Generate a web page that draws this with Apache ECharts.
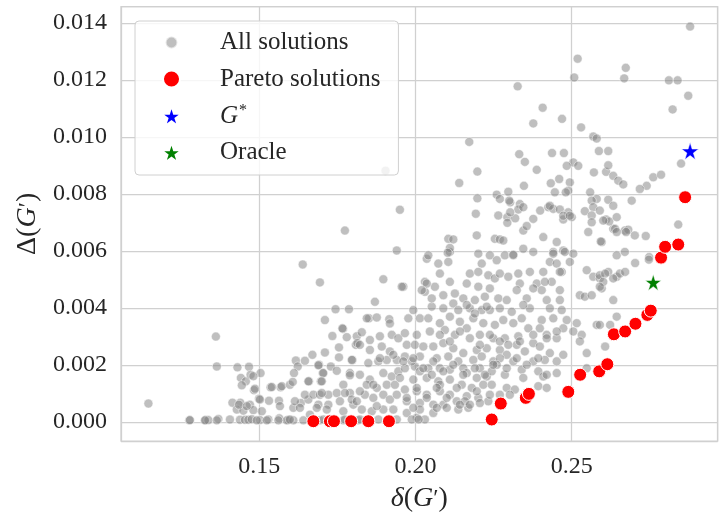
<!DOCTYPE html>
<html>
<head>
<meta charset="utf-8">
<script src="https://cdn.jsdelivr.net/npm/echarts@6/dist/echarts.min.js"></script>
<style>
html, body { margin: 0; padding: 0; background: #fff; }
#chart { width: 719px; height: 518px; }
</style>
</head>
<body>
<div id="chart"></div>
<script>
// points as [delta(G'), Delta(G')]
const allSolutions = [
  [0.1145,0.00064],[0.1276,0.00005],[0.1361,0.00299],[0.1364,0.00194],[0.1639,0.00552],[0.1694,0.00489],
  [0.1710,0.00357],[0.1744,0.00395],[0.1787,0.00395],[0.1768,0.00326],[0.1734,0.00301],[0.1755,0.00261],
  [0.1780,0.00297],[0.1755,0.00226],[0.1710,0.00243],[0.1670,0.00235],[0.1617,0.00215],[0.1623,0.00194],
  [0.1691,0.00200],[0.1729,0.00194],[0.1659,0.00142],[0.1611,0.00171],
  [0.1430,0.00191],[0.1467,0.00193],[0.1441,0.00154],[0.1457,0.00142],[0.1472,0.00165],[0.1504,0.00171],
  [0.1444,0.00128],[0.1483,0.00111],[0.1536,0.00121],[0.1568,0.00121],[0.1499,0.00081],[0.1531,0.00074],
  [0.1414,0.00067],[0.1439,0.00067],[0.1470,0.00060],[0.1563,0.00074],[0.1428,0.00043],[0.1449,0.00039],
  [0.1481,0.00041],[0.1508,0.00037],[0.1566,0.00055],
  [0.1278,0.00006],[0.1328,0.00006],[0.1337,0.00006],[0.1369,0.00010],[0.1406,0.00008],[0.1438,0.00007],
  [0.1454,0.00007],[0.1465,0.00007],[0.1476,0.00009],[0.1502,0.00006],[0.1529,0.00008],[0.1564,0.00012],
  [0.1593,0.00006],
  [0.1481,0.00160],[0.1486,0.00116],[0.1540,0.00122],[0.1572,0.00125],[0.1598,0.00130],[0.1607,0.00140],
  [0.1646,0.00214],[0.1689,0.00198],[0.1703,0.00171],[0.1697,0.00142],[0.1748,0.00179],[0.1790,0.00171],
  [0.1798,0.00217],[0.1809,0.00270],[0.1812,0.00300],
  [0.1435,0.00060],[0.1460,0.00055],[0.1502,0.00078],[0.1609,0.00049],[0.1633,0.00066],[0.1657,0.00078],
  [0.1646,0.00095],[0.1673,0.00095],[0.1694,0.00095],[0.1721,0.00095],[0.1748,0.00101],[0.1758,0.00072],
  [0.1689,0.00060],[0.1721,0.00060],[0.1790,0.00101],[0.1801,0.00060],[0.1796,0.00078],
  [0.1326,0.00005],[0.1364,0.00005],[0.1492,0.00005],[0.1524,0.00005],[0.1561,0.00005],[0.1588,0.00005],
  [0.1609,0.00005],[0.1641,0.00005],[0.1694,0.00005],[0.1721,0.00005],[0.1769,0.00005],[0.1817,0.00005],
  [0.1774,0.00671],[0.1897,0.00500],[0.1940,0.00601],[0.1870,0.00421],[0.1851,0.00363],[0.1876,0.00366],
  [0.1916,0.00360],[0.1918,0.00345],[0.1766,0.00328],[0.1828,0.00314],[0.1854,0.00287],[0.1886,0.00300],
  [0.1924,0.00305],[0.1945,0.00293],[0.1814,0.00276],[0.1854,0.00252],[0.1892,0.00264],[0.1918,0.00247],
  [0.1796,0.00217],[0.1849,0.00206],[0.1881,0.00212],[0.1908,0.00217],[0.1940,0.00217],[0.1705,0.00171],
  [0.1790,0.00163],[0.1822,0.00165],[0.1854,0.00148],[0.1897,0.00171],[0.1924,0.00159],[0.1945,0.00177],
  [0.1657,0.00142],[0.1700,0.00142],[0.1769,0.00130],[0.1844,0.00130],[0.1876,0.00119],[0.1908,0.00130],
  [0.1934,0.00130],[0.1614,0.00072],[0.1700,0.00101],[0.1774,0.00101],[0.1812,0.00072],[0.1838,0.00095],
  [0.1865,0.00084],[0.1897,0.00095],[0.1918,0.00078],[0.1940,0.00095],[0.1630,0.00049],[0.1684,0.00049],
  [0.1716,0.00043],[0.1769,0.00037],[0.1828,0.00043],[0.1860,0.00037],[0.1897,0.00043],[0.1929,0.00043],
  [0.1662,0.00025],[0.1705,0.00008],[0.1774,0.00008],[0.1822,0.00008],[0.1881,0.00008],[0.1940,0.00008],
  [0.1598,0.00008],
  [0.2105,0.00642],[0.2121,0.00640],[0.2254,0.00642],[0.2270,0.00640],[0.2110,0.00596],[0.2036,0.00572],
  [0.2073,0.00555],[0.2105,0.00561],[0.2201,0.00590],[0.2238,0.00584],[0.2260,0.00567],[0.2286,0.00584],
  [0.2212,0.00555],[0.2078,0.00520],[0.2030,0.00491],[0.2062,0.00474],[0.2110,0.00491],[0.2164,0.00485],
  [0.2174,0.00520],[0.2201,0.00526],[0.2233,0.00514],[0.2254,0.00503],[0.2270,0.00520],[0.2297,0.00509],
  [0.2201,0.00474],[0.2238,0.00468],[0.1961,0.00474],[0.2030,0.00456],[0.2089,0.00444],[0.2126,0.00450],
  [0.2153,0.00433],[0.2190,0.00427],[0.2222,0.00439],[0.2265,0.00433],[0.2292,0.00427],[0.2052,0.00404],
  [0.2089,0.00398],[0.2121,0.00415],[0.2137,0.00392],[0.2174,0.00398],[0.2212,0.00392],[0.2238,0.00392],
  [0.2270,0.00398],[0.1993,0.00392],[0.1977,0.00363],[0.2014,0.00363],[0.2041,0.00363],[0.2078,0.00346],
  [0.2110,0.00369],[0.2142,0.00351],[0.2185,0.00363],[0.2217,0.00346],[0.2254,0.00340],[0.2281,0.00357],
  [0.1966,0.00311],[0.2004,0.00305],[0.2046,0.00317],[0.2094,0.00322],[0.2164,0.00328],[0.2126,0.00305],
  [0.2174,0.00293],[0.2206,0.00305],[0.2249,0.00293],[0.2286,0.00293],[0.1972,0.00270],[0.1998,0.00270],
  [0.2025,0.00264],[0.2057,0.00264],[0.2089,0.00276],[0.2121,0.00258],[0.2153,0.00241],[0.2196,0.00252],
  [0.2228,0.00258],[0.2270,0.00252],[0.2292,0.00235],[0.1966,0.00229],[0.2014,0.00229],[0.2068,0.00223],
  [0.2105,0.00229],[0.2137,0.00212],[0.2185,0.00217],[0.2212,0.00229],[0.2249,0.00212],[0.2270,0.00223],
  [0.1966,0.00188],[0.1998,0.00194],[0.2041,0.00188],[0.2078,0.00188],[0.2110,0.00183],[0.2153,0.00188],
  [0.2196,0.00154],[0.2228,0.00159],[0.2260,0.00200],[0.1950,0.00154],[0.1993,0.00148],[0.2036,0.00154],
  [0.2073,0.00142],[0.2110,0.00148],[0.2148,0.00130],[0.2180,0.00119],[0.2217,0.00130],[0.1966,0.00113],
  [0.2004,0.00107],[0.2036,0.00095],[0.2078,0.00107],[0.2110,0.00095],[0.2164,0.00090],[0.2201,0.00084],
  [0.2233,0.00072],[0.1972,0.00072],[0.2014,0.00066],[0.2057,0.00060],[0.2089,0.00060],[0.2132,0.00072],
  [0.2169,0.00049],[0.1972,0.00031],[0.2030,0.00008],[0.2004,0.00014],[0.1988,0.00008],[0.2014,0.00043],
  [0.2057,0.00031],[0.2100,0.00049],[0.2137,0.00043],[0.2158,0.00072],[0.2206,0.00066],[0.2238,0.00095],
  [0.2078,0.00130],[0.2052,0.00165],[0.2014,0.00177],[0.1988,0.00212],[0.2164,0.00171],[0.2206,0.00188],
  [0.2244,0.00177],[0.2244,0.00130],[0.2286,0.00165],[0.2292,0.00119],[0.2270,0.00095],[0.2010,0.00008],
  [0.2345,0.00671],[0.2409,0.00648],[0.2452,0.00631],[0.2553,0.00666],[0.2596,0.00631],[0.2633,0.00677],
  [0.2345,0.00607],[0.2377,0.00596],[0.2441,0.00596],[0.2473,0.00601],[0.2313,0.00584],[0.2430,0.00561],
  [0.2494,0.00561],[0.2468,0.00526],[0.2409,0.00526],[0.2366,0.00526],[0.2329,0.00520],[0.2548,0.00532],
  [0.2569,0.00509],[0.2590,0.00503],[0.2617,0.00526],[0.2644,0.00509],[0.2436,0.00491],[0.2334,0.00485],
  [0.2388,0.00485],[0.2324,0.00462],[0.2404,0.00462],[0.2462,0.00462],[0.2526,0.00444],[0.2542,0.00439],
  [0.2564,0.00444],[0.2596,0.00468],[0.2633,0.00427],[0.2356,0.00433],[0.2420,0.00427],[0.2462,0.00427],
  [0.2366,0.00398],[0.2430,0.00398],[0.2468,0.00392],[0.2308,0.00386],[0.2340,0.00363],[0.2404,0.00357],
  [0.2441,0.00363],[0.2484,0.00357],[0.2516,0.00346],[0.2313,0.00346],[0.2580,0.00340],[0.2361,0.00328],
  [0.2398,0.00328],[0.2473,0.00328],[0.2505,0.00317],[0.2532,0.00305],[0.2420,0.00305],[0.2329,0.00300],
  [0.2452,0.00293],[0.2377,0.00276],[0.2398,0.00264],[0.2324,0.00270],[0.2526,0.00282],[0.2350,0.00247],
  [0.2473,0.00235],[0.2548,0.00241],[0.2430,0.00241],[0.2377,0.00212],[0.2414,0.00217],[0.2452,0.00212],
  [0.2607,0.00264],[0.2313,0.00212],[0.2340,0.00183],[0.2393,0.00177],[0.2452,0.00171],[0.2548,0.00188],
  [0.2409,0.00159],[0.2345,0.00154],[0.2393,0.00125],[0.2420,0.00119],[0.2318,0.00113],[0.2302,0.00095],
  [0.2327,0.01177],[0.2407,0.01102],[0.2377,0.01047],[0.2172,0.00982],[0.2332,0.00939],[0.2350,0.00912],
  [0.2388,0.00884],[0.2198,0.00878],[0.2140,0.00838],[0.2347,0.00828],[0.2260,0.00797],[0.2297,0.00807],
  [0.2270,0.00782],[0.2198,0.00784],[0.2303,0.00770],[0.2334,0.00764],[0.2329,0.00745],[0.2345,0.00753],
  [0.2193,0.00730],[0.2265,0.00724],[0.2294,0.00718],[0.2294,0.00698],[0.2319,0.00714],[0.2377,0.00712],
  [0.2399,0.00741],[0.2425,0.00753],[0.2356,0.00687],
  [0.2879,0.01387],[0.2519,0.01274],[0.2673,0.01242],[0.2668,0.01205],[0.2508,0.01208],[0.2811,0.01198],
  [0.2839,0.01198],[0.2873,0.01144],[0.2823,0.01096],[0.2469,0.01063],[0.2530,0.01033],[0.2569,0.01001],
  [0.2580,0.00994],[0.2587,0.00950],[0.2617,0.00950],[0.2437,0.00943],[0.2475,0.00943],[0.2505,0.00910],
  [0.2521,0.00898],[0.2484,0.00898],[0.2571,0.00875],[0.2610,0.00877],[0.2617,0.00900],[0.2633,0.00863],
  [0.2649,0.00846],[0.2665,0.00833],[0.2761,0.00858],[0.2786,0.00867],[0.2850,0.00906],[0.2740,0.00828],
  [0.2718,0.00817],[0.2692,0.00776],[0.2433,0.00837],[0.2460,0.00852],[0.2494,0.00840],[0.2489,0.00811],
  [0.2446,0.00805],[0.2481,0.00805],[0.2559,0.00805],[0.2580,0.00782],[0.2300,0.00776],[0.2441,0.00747],
  [0.2462,0.00745],[0.2489,0.00735],[0.2500,0.00718],[0.2473,0.00710],[0.2542,0.00739],[0.2564,0.00776],
  [0.2569,0.00753],[0.2564,0.00724],[0.2564,0.00700],[0.2590,0.00741],[0.2617,0.00779],[0.2633,0.00758],
  [0.2610,0.00710],[0.2620,0.00703],[0.2644,0.00718],[0.2639,0.00677],[0.2670,0.00671],[0.2681,0.00674],
  [0.2702,0.00654],[0.2737,0.00652],[0.2593,0.00633],[0.2841,0.00692],[0.2110,0.00610],[0.2103,0.00593],
  [0.1950,0.00744],[0.2041,0.00584],[0.2313,0.00586],[0.2505,0.00590],[0.2644,0.00584],[0.2670,0.00596],
  [0.2748,0.00578],[0.2196,0.00654],[0.2281,0.00636],[0.1904,0.00881],[0.2303,0.00735],
  [0.2644,0.00666],[0.2601,0.00706],[0.2430,0.00758],[0.2473,0.00723],[0.2494,0.00723],[0.2478,0.00596],
  [0.2441,0.00590],[0.2452,0.00555],[0.2462,0.00526],[0.2590,0.00514],[0.2654,0.00520],[0.2703,0.00557],
  [0.2747,0.00569],[0.2674,0.00666],[0.2607,0.00520],[0.2671,0.00526],[0.2601,0.00491],[0.2633,0.00503],
  [0.2590,0.00474],[0.2644,0.00369],[0.2623,0.00340],[0.2590,0.00340],
  [0.1956,0.00474],[0.1844,0.00363],[0.2036,0.00485],[0.2020,0.00462],[0.2052,0.00433],[0.2164,0.00410],
  [0.2190,0.00380],[0.2228,0.00404],[0.2345,0.00410],[0.2377,0.00468],[0.2414,0.00491],
  [0.2078,0.00305],[0.2110,0.00282],[0.2142,0.00317],[0.2206,0.00270],[0.2238,0.00305],[0.2270,0.00282],
  [0.2297,0.00270],[0.2334,0.00282],[0.2377,0.00305],[0.2420,0.00293],[0.2452,0.00317],
  [0.1822,0.00270],[0.1886,0.00223],[0.1929,0.00235],[0.1961,0.00212],[0.1993,0.00223],[0.2025,0.00188],
  [0.2057,0.00212],[0.2089,0.00177],[0.2121,0.00200],[0.2153,0.00165],[0.2190,0.00188],[0.2222,0.00165],
  [0.2249,0.00200],[0.2292,0.00188],[0.2324,0.00223],[0.2356,0.00200],[0.2393,0.00223],[0.2420,0.00165],
  [0.1822,0.00107],[0.1865,0.00130],[0.1972,0.00084],[0.2004,0.00119],[0.2036,0.00084],[0.2068,0.00119],
  [0.2100,0.00084],[0.2132,0.00119],[0.2196,0.00107],[0.2142,0.00060],[0.2174,0.00060],[0.1876,0.00055],
  [0.1993,0.00049],[0.2068,0.00049]
];
const paretoSolutions = [
  [0.1673,0.00002],[0.1726,0.00002],[0.1739,0.00002],[0.1794,0.00002],[0.1849,0.00002],[0.1915,0.00002],
  [0.2244,0.00008],[0.2273,0.00064],[0.2353,0.00084],[0.2363,0.00098],[0.2489,0.00105],[0.2527,0.00165],
  [0.2588,0.00177],[0.2614,0.00202],[0.2635,0.00307],[0.2671,0.00317],[0.2704,0.00344],[0.2742,0.00375],
  [0.2753,0.00390],[0.2786,0.00576],[0.2799,0.00614],[0.2841,0.00622],[0.2863,0.00788]
];
const gStar = [[0.2879, 0.00950]];
const oracle = [[0.2761, 0.00489]];

const FONT = 'Liberation Serif';
const TXT = '#262626';
const STAR = 'path://M0,-10L2.245,-3.09L9.511,-3.09L3.633,1.18L5.878,8.09L0,3.82L-5.878,8.09L-3.633,1.18L-9.511,-3.09L-2.245,-3.09Z';
// legend icons: circles padded to a square box so they keep their own size
const DOT_S = 'path://M0,0M16,16M3.5,8a4.5,4.5 0 1,0 9,0a4.5,4.5 0 1,0 -9,0Z';
const DOT_L = 'path://M0,0M16,16M1.5,8a6.5,6.5 0 1,0 13,0a6.5,6.5 0 1,0 -13,0Z';

const nameRich = {
  n: { fontFamily: FONT, fontSize: 28, color: TXT },
  i: { fontFamily: FONT, fontSize: 28, color: TXT, fontStyle: 'italic' },
  s: { fontFamily: FONT, fontSize: 24, color: TXT }
};

const myChart = echarts.init(document.getElementById('chart'));
const option = {
  animation: false,
  backgroundColor: '#fff',
  grid: {
    left: 121, right: 1.3, top: 6.7, bottom: 74.7,
    show: true, borderColor: '#d0d0d0', borderWidth: 1.25
  },
  legend: {
    orient: 'vertical', left: 135, top: 21,
    padding: [9, 18, 10, 25],
    itemWidth: 21, itemHeight: 21, itemGap: 11.5,
    backgroundColor: 'rgba(255,255,255,0.8)',
    borderColor: '#d0d0d0', borderWidth: 1, borderRadius: 4,
    textStyle: {
      fontFamily: FONT, fontSize: 25, color: TXT, lineHeight: 25, padding: [0, 0, 0, 33],
      rich: {
        it: { fontFamily: FONT, fontSize: 25, color: TXT, fontStyle: 'italic' },
        sup: { fontFamily: FONT, fontSize: 16, color: TXT, padding: [0, 0, 10, 1] }
      }
    },
    formatter: function (n) { return n === 'G*' ? '{it|G}{sup|*}' : n; },
    data: [
      { name: 'All solutions', icon: DOT_S },
      { name: 'Pareto solutions', icon: DOT_L },
      { name: 'G*', icon: STAR },
      { name: 'Oracle', icon: STAR }
    ]
  },
  xAxis: {
    type: 'value', min: 0.10573, max: 0.29673, splitNumber: 4,
    axisLine: { show: false }, axisTick: { show: false },
    splitLine: { lineStyle: { color: '#d0d0d0', width: 1.25 } },
    axisLabel: {
      fontFamily: FONT, fontSize: 24, color: TXT, margin: 14,
      showMinLabel: false, showMaxLabel: false,
      formatter: function (v) { return v.toFixed(2); }
    },
    name: '{i|δ}{n|(}{i|G}{s|′}{n|)}', nameLocation: 'middle', nameGap: 44,
    nameTextStyle: { rich: nameRich }
  },
  yAxis: {
    type: 'value', min: -0.000674, max: 0.014565, splitNumber: 8,
    axisLine: { show: false }, axisTick: { show: false },
    splitLine: { lineStyle: { color: '#d0d0d0', width: 1.25 } },
    axisLabel: {
      fontFamily: FONT, fontSize: 24, color: TXT, margin: 14,
      showMinLabel: false, showMaxLabel: false,
      formatter: function (v) { return v.toFixed(3); }
    },
    name: '{n|Δ(}{i|G}{s|′}{n|)}', nameLocation: 'middle', nameGap: 78,
    nameTextStyle: { rich: nameRich }
  },
  series: [
    {
      name: 'All solutions', type: 'scatter', symbol: 'circle', symbolSize: 9,
      itemStyle: { color: 'rgba(128,128,128,0.5)', borderColor: 'rgba(255,255,255,0.6)', borderWidth: 0.8, opacity: 1 },
      data: allSolutions
    },
    {
      name: 'Pareto solutions', type: 'scatter', symbol: 'circle', symbolSize: 13,
      itemStyle: { color: '#ff0000', borderColor: '#ffffff', borderWidth: 1, opacity: 1 },
      data: paretoSolutions
    },
    {
      name: 'G*', type: 'scatter', symbol: STAR, symbolSize: 17,
      itemStyle: { color: '#0000ff', borderColor: '#ffffff', borderWidth: 0.5, opacity: 1 },
      data: gStar
    },
    {
      name: 'Oracle', type: 'scatter', symbol: STAR, symbolSize: 16,
      itemStyle: { color: '#008000', borderColor: '#ffffff', borderWidth: 0.5, opacity: 1 },
      data: oracle
    }
  ]
};
myChart.setOption(option);
</script>
</body>
</html>
